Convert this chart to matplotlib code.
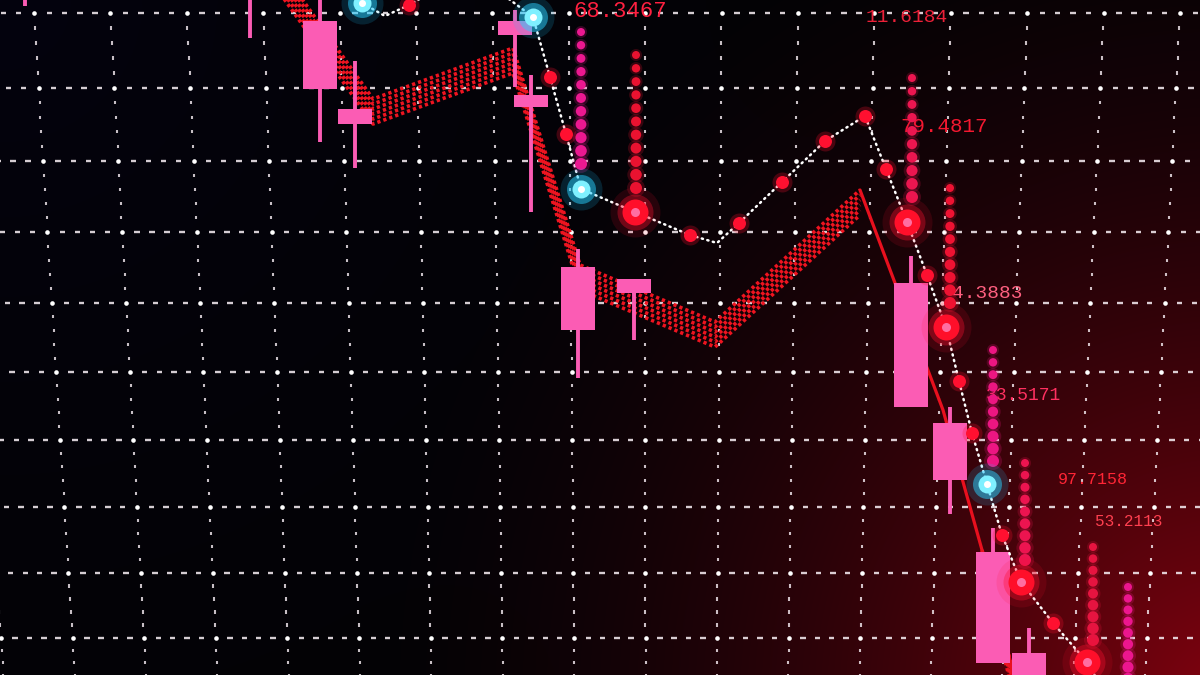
import numpy as np
import matplotlib
matplotlib.use("Agg")
import matplotlib.pyplot as plt
from matplotlib.collections import LineCollection

# ---------------- data ----------------
# candlesticks (time, open, close, high, low) - falling market
candle_t = [2.5, 25.0, 32.0, 35.5, 51.5, 53.1, 57.8, 63.4, 91.1, 95.0, 99.3, 102.9]
candle_open = [72.0, 71.0, 65.4, 56.6, 65.4, 58.0, 40.8, 39.6, 39.2, 25.2, 12.3, 2.2]
candle_close = [69.5, 69.0, 58.6, 55.1, 64.0, 56.8, 34.5, 38.2, 26.8, 19.5, 1.2, -3.0]
candle_high = [73.0, 72.0, 68.5, 61.4, 66.5, 60.0, 42.6, 39.6, 41.9, 26.8, 14.7, 4.7]
candle_low = [66.9, 63.7, 53.3, 50.7, 58.8, 46.3, 29.7, 33.5, 26.8, 16.1, 1.2, -3.0]

# trend (moving-average ribbon) path
trend_t = [26.0, 37.3, 51.3, 58.0, 71.5, 86.0, 89.5, 94.3, 98.2, 101.0, 101.8]
trend_p = [73.5, 57.6, 62.7, 41.0, 35.3, 48.5, 39.2, 26.5, 12.5, 1.5, -2.5]

# signal line with markers: c = cyan, r = small red, R = big red, '' = no marker
sig_t = [34.5, 36.2, 38.5, 40.9, 47.0, 53.3, 55.0, 56.6, 58.1, 63.5, 69.0, 71.7,
         73.9, 78.2, 82.5, 86.5, 88.6, 90.7, 92.7, 94.6, 95.9, 97.2, 98.7,
         100.2, 102.1, 105.3, 108.7, 111.5]
sig_p = [69.0, 67.2, 65.9, 67.0, 70.5, 65.8, 59.8, 54.1, 48.6, 46.3, 44.0, 43.2,
         45.2, 49.3, 53.4, 55.9, 50.6, 45.3, 40.0, 34.8, 29.4, 24.2, 19.1,
         14.0, 9.3, 5.2, 1.3, -3.5]
sig_kind = ['', 'c', '', 'r', '', 'c', 'r', 'r', 'c', 'R', 'r', '',
            'r', 'r', 'r', 'r', 'r', 'R', 'r', 'R', 'r', 'r', 'c',
            'r', 'R', 'r', 'R', '']

# dotted volume-like columns
col_t = [58.1, 63.6, 91.2, 95.0, 99.3, 102.5, 109.3, 112.8]
col_top = [64.3, 62.0, 59.7, 48.7, 32.5, 21.2, 12.8, 8.8]
col_bottom = [51.1, 48.7, 47.8, 37.2, 21.4, 11.5, 3.5, -1.5]
col_count = [11, 11, 10, 10, 10, 9, 9, 10]
col_color = ['#ec1890', '#ea1230', '#ec1650', '#ee1232',
             '#ec1682', '#ec1450', '#e61440', '#ec168e']

# price labels
label_t = [57.3, 86.6, 90.0, 95.2, 98.6, 105.8, 109.5]
label_p = [67.4, 65.8, 54.8, 38.1, 27.9, 19.5, 15.4]
label_text = ['68.3467', '11.6184', '79.4817', '4.3883', '33.5171', '97.7158', '53.2113']
label_color = ['#ff2040', '#ec2038', '#f41830', '#ff6080', '#ff3060', '#ff2535', '#ff4050']
label_size = [16, 14, 15, 14, 13, 12, 11.5]

# ---------------- figure ----------------
W, H = 1200, 675
fig = plt.figure(figsize=(12, 6.75), dpi=100)
ax = fig.add_axes([0, 0, 1, 1])
ax.set_xlim(0, 120)
ax.set_ylim(0, 67.5)
ax.axis('off')


def px(x, y):
    return np.asarray(x) / 10.0, (H - np.asarray(y)) / 10.0


# background gradient
yy, xx = np.mgrid[0:H, 0:W].astype(float)
d = np.hypot(xx - 1230, yy - 700) / 880.0
red = np.clip(1 - d, 0, 1) ** 1.7
d2 = np.hypot(xx, yy) / 900.0
blue = np.clip(1 - d2, 0, 1) ** 1.5
img = np.zeros((H, W, 3))
img[..., 0] = 0.012 + 0.5 * red
img[..., 1] = 0.008
img[..., 2] = 0.02 + 0.035 * blue + 0.04 * red
ax.imshow(np.clip(img, 0, 1), extent=(0, 120, 0, 67.5), origin='upper',
          aspect='auto', zorder=0, interpolation='bilinear')

# perspective grid (decoration)
gx_top = 34 + 76.4 * np.arange(-1, 17)
gy = np.array([-62, 13, 88, 161, 232, 303, 372, 440, 507, 573, 638, 700])
k, xc = 1.0e-4, 650.0


def vx(x0, y):
    return x0 + k * (xc - x0) * (y - 13)


hseg, vseg, inter = [], [], []
for yj in gy[1:-1]:
    for i in range(len(gx_top) - 1):
        xa, xb = vx(gx_top[i], yj), vx(gx_top[i + 1], yj)
        inter.append((xa, yj))
        for m in range(1, 5):
            xm = xa + m * (xb - xa) / 5
            hseg.append([px(xm - 2.7, yj), px(xm + 2.7, yj)])
for x0 in gx_top:
    for j in range(len(gy) - 1):
        for m in range(1, 5):
            ym = gy[j] + m * (gy[j + 1] - gy[j]) / 5
            xm = vx(x0, ym)
            vseg.append([px(xm, ym - 1.6), px(xm, ym + 1.6)])
ax.add_collection(LineCollection(hseg, colors='#f4eaf0', linewidths=1.7,
                                 alpha=0.88, zorder=1))
ax.add_collection(LineCollection(vseg, colors='#f4eaf0', linewidths=1.5,
                                 alpha=0.82, zorder=1))
ix, iy = px([p[0] for p in inter], [p[1] for p in inter])
ax.scatter(ix, iy, s=11, color='#ffffff', linewidths=0, zorder=1)

# price labels
for t, p, s, c, fs in zip(label_t, label_p, label_text, label_color, label_size):
    ax.text(t, p, s, color=c, fontsize=fs, family=['Liberation Mono', 'DejaVu Sans Mono'],
            ha='left', va='top' if p > 67 else 'center', zorder=2)


# ribbon
def ribbon(ts, ps, rows=6, gap=0.5):
    ps = np.asarray(ps, float)
    for j in range(rows):
        ax.plot(ts, ps - j * gap, color='#ee1420', lw=2.6,
                linestyle=(0, (0.9, 0.85)), dash_capstyle='butt', zorder=3)


ribbon(trend_t[:6], trend_p[:6])
ribbon(trend_t[8:], trend_p[8:], rows=5)
ax.plot(trend_t[5:], trend_p[5:], color='#e8101e', lw=2.3, zorder=3,
        solid_capstyle='round')

# candles
body_w = 3.45
for t, o, c, h, l in zip(candle_t, candle_open, candle_close, candle_high, candle_low):
    ax.vlines(t, l, h, color='#fb5cb4', lw=2.8, zorder=4)
    ax.bar(t, abs(o - c), bottom=min(o, c), width=body_w, color='#fb5cb4',
           linewidth=0, zorder=4)

# signal dotted white line
ax.plot(sig_t, sig_p, color='white', lw=1.8, linestyle=(0, (0.5, 1.8)),
        dash_capstyle='round', zorder=5)


def S(dpx):
    return (np.asarray(dpx) / 1.389) ** 2


# columns of dots
for t, top, bot, n, c in zip(col_t, col_top, col_bottom, col_count, col_color):
    ys = np.linspace(top, bot, n)
    dpx = np.linspace(8.0, 12.0, n)
    ax.scatter([t] * n, ys, s=S(dpx * 1.5), color=c, alpha=0.22, linewidths=0, zorder=6)
    ax.scatter([t] * n, ys, s=S(dpx), color=c, linewidths=0, zorder=6)

# markers
for t, p, kd in zip(sig_t, sig_p, sig_kind):
    if kd == 'r':
        ax.scatter(t, p, s=S(20), color='#ff1030', alpha=0.25, linewidths=0, zorder=7)
        ax.scatter(t, p, s=S(13), color='#ff1030', linewidths=0, zorder=7)
    elif kd == 'R':
        ax.scatter(t, p, s=S(50), color='#ff1030', alpha=0.13, linewidths=0, zorder=7)
        ax.scatter(t, p, s=S(36), color='#ff1030', alpha=0.35, linewidths=0, zorder=7)
        ax.scatter(t, p, s=S(26), color='#ff0f2a', linewidths=0, zorder=7)
        ax.scatter(t, p, s=S(9), color='#ff80b8', alpha=0.85, linewidths=0, zorder=7)
    elif kd == 'c':
        ax.scatter(t, p, s=S(42), color='#19c6ff', alpha=0.16, linewidths=0, zorder=7)
        ax.scatter(t, p, s=S(29), color='#28d0ff', alpha=0.5, linewidths=0, zorder=7)
        ax.scatter(t, p, s=S(18), color='#7ff0ff', linewidths=0, zorder=7)
        ax.scatter(t, p, s=S(7), color='white', linewidths=0, zorder=7)

fig.savefig('out.png', dpi=100, facecolor='black')
